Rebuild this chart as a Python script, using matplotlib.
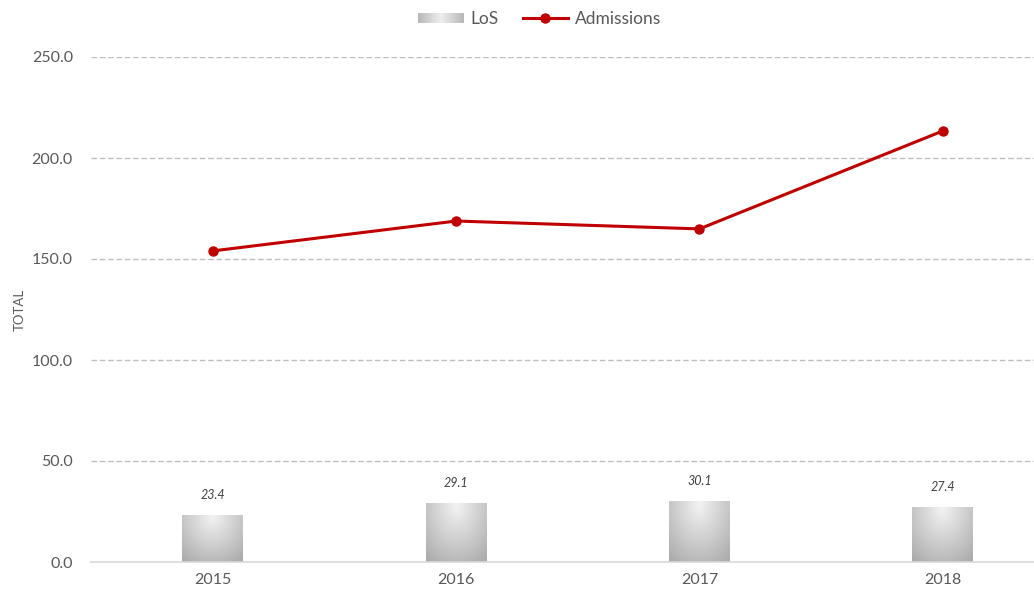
import numpy as np
import matplotlib.pyplot as plt
from matplotlib.patches import Rectangle
from matplotlib.lines import Line2D
from matplotlib.legend_handler import HandlerBase
from matplotlib.image import BboxImage
from matplotlib.transforms import Bbox, TransformedBbox

plt.rcParams['font.family'] = ['Lato', 'DejaVu Sans']

years = ['2015', '2016', '2017', '2018']
los = [23.4, 29.1, 30.1, 27.4]
admissions = [154.0, 168.8, 164.9, 213.4]

text_col = '#595959'
red = '#c00000'
bar_w = 0.25

# radial grey gradient for the bars, light near the top centre
gy, gx = np.mgrid[0:1:200j, -1:1:200j]
dist = np.sqrt((gx * 0.75) ** 2 + ((gy - 0.05) * 1.0) ** 2)
grad = np.clip(0.95 - 0.24 * dist, 0.66, 0.95)

fig = plt.figure(figsize=(10.34, 5.93), dpi=100)
ax = fig.add_axes([91 / 1034, 1 - 562 / 593, 1 - 91 / 1034, 505 / 593])

x = np.arange(len(years))
for xi, v in zip(x, los):
    left = xi - bar_w / 2
    im = ax.imshow(grad, cmap='gray', vmin=0, vmax=1, aspect='auto',
                   extent=(left, left + bar_w, 0, v), origin='upper', zorder=2)
    rect = Rectangle((left, 0), bar_w, v, facecolor='none', edgecolor='none')
    ax.add_patch(rect)
    im.set_clip_path(rect)
    ax.text(xi, v + 7, f'{v:.1f}', ha='center', va='bottom', fontsize=9,
            style='italic', color='#404040')

ax.plot(x, admissions, color=red, lw=2.2, marker='o', ms=6.5, zorder=4)

ax.set_xlim(-0.5, 3.5 - 30.5 / 243)
ax.set_ylim(0, 250)
ax.set_yticks(np.arange(0, 251, 50))
ax.set_yticklabels([f'{t:.1f}' for t in np.arange(0, 251, 50)])
ax.set_xticks(x)
ax.set_xticklabels(years)
ax.tick_params(length=0, labelsize=11.5, labelcolor=text_col, pad=8)
ax.tick_params(axis='y', pad=13)

for t in np.arange(50, 251, 50):
    ax.axhline(t, color='#bfbfbf', lw=1, ls=(0, (4, 2)), zorder=1)
for s in ['top', 'right', 'left']:
    ax.spines[s].set_visible(False)
ax.spines['bottom'].set_color('#d9d9d9')
ax.spines['bottom'].set_linewidth(1.2)

ax.set_ylabel('TOTAL', fontsize=9.5, color=text_col, labelpad=4)


class GradientHandler(HandlerBase):
    def create_artists(self, legend, orig_handle, xdescent, ydescent,
                       width, height, fontsize, trans):
        img = np.tile(np.linspace(0.72, 0.93, 50), (5, 1))
        img = np.hstack([img, img[:, ::-1]])
        bb = Bbox.from_bounds(-xdescent, -ydescent + height * 0.1, width, height * 0.8)
        bim = BboxImage(TransformedBbox(bb, trans), cmap='gray',
                        interpolation='bilinear')
        bim.set_data(img)
        bim.set_clim(0, 1)
        return [bim]


bar_handle = Rectangle((0, 0), 1, 1, facecolor='#d0d0d0')
line_handle = Line2D([], [], color=red, lw=2.2, marker='o', ms=6.5)
fig.legend([bar_handle, line_handle], ['LoS', 'Admissions'],
           handler_map={Rectangle: GradientHandler()},
           loc='upper center', bbox_to_anchor=(0.522, 1.008), ncol=2,
           frameon=False, fontsize=12.5, labelcolor=text_col,
           handlelength=2.6, columnspacing=1.4, handletextpad=0.4)

fig.savefig('out.png', dpi=100)
